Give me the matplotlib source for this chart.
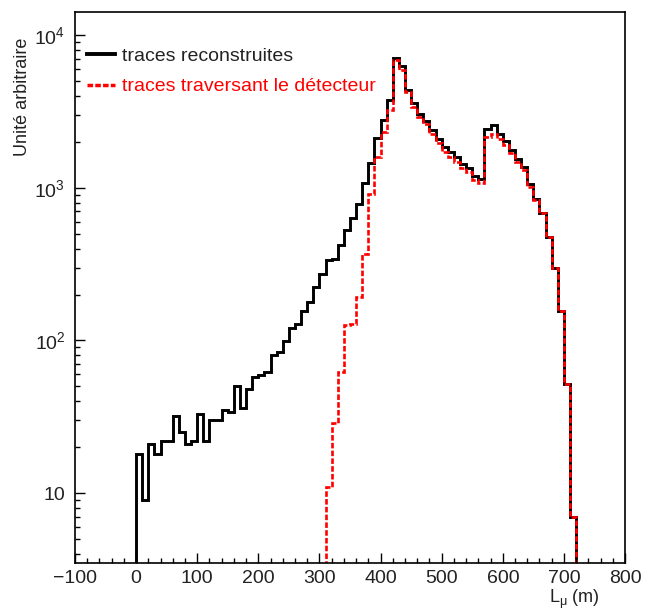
import numpy as np
import matplotlib
matplotlib.use("Agg")
import matplotlib.pyplot as plt
from matplotlib.lines import Line2D
from matplotlib.ticker import FixedLocator, FixedFormatter, MultipleLocator, LogLocator, NullFormatter

plt.rcParams['font.family'] = ['Liberation Sans', 'DejaVu Sans']
plt.rcParams['mathtext.fontset'] = 'custom'
plt.rcParams['mathtext.rm'] = 'Liberation Sans'
plt.rcParams['mathtext.it'] = 'Liberation Sans:italic'
plt.rcParams['lines.scale_dashes'] = False

# histogram of reconstructed tracks, 10 m bins from 0 to 720 m
reco_start = 0
reco_counts = [18, 9, 21, 18, 22, 22, 32, 25, 21, 22,
               33, 22, 30, 30, 35, 34, 50, 36, 48, 58,
               59, 62, 80, 84, 99, 120, 129, 155, 179, 224,
               272, 336, 342, 421, 527, 630, 781, 1070, 1460, 2126,
               2775, 3753, 7145, 6266, 4409, 3574, 3043, 2748, 2387, 2075,
               1858, 1706, 1582, 1423, 1340, 1193, 1135, 2421, 2575, 2249,
               2032, 1783, 1557, 1374, 1052, 843, 680, 477, 297, 156,
               52, 7]

# tracks crossing the detector, 10 m bins from 310 to 720 m
cross_start = 310
cross_counts = [11, 29, 62, 126, 129, 194, 371, 918, 1596,
                2329, 3228, 6855, 5900, 4252, 3390, 2917, 2612, 2270, 1953,
                1721, 1596, 1480, 1340, 1274, 1122, 1069, 2157, 2270, 2105,
                1904, 1680, 1480, 1306, 1016, 832, 680, 477, 297, 156,
                52, 7]

bin_width = 10
labels = ['traces reconstruites', 'traces traversant le détecteur']
ytick_vals = [10, 100, 1000, 10000]
ytick_labels = ['10', '$10^{2}$', '$10^{3}$', '$10^{4}$']

reco_edges = reco_start + bin_width * np.arange(len(reco_counts) + 1)
cross_edges = cross_start + bin_width * np.arange(len(cross_counts) + 1)

text_col = '#222222'

fig = plt.figure(figsize=(6.49, 6.12), dpi=100)
ax = fig.add_axes([0.1156, 0.080, 0.8475, 0.900])

red_dash = (0, (4.0, 1.6))
ax.stairs(reco_counts, reco_edges, baseline=1e-3, color='black', lw=2.1)
ax.stairs(cross_counts, cross_edges, baseline=1e-3, color='red', lw=1.9,
          linestyle=red_dash)

ax.set_yscale('log')
ax.set_xlim(-100, 800)
ax.set_ylim(3.48, 14150)

# axis ticks, ROOT-like: inside, only left and bottom
ax.xaxis.set_major_locator(MultipleLocator(100))
ax.xaxis.set_minor_locator(MultipleLocator(20))
ax.yaxis.set_major_locator(FixedLocator(ytick_vals))
ax.yaxis.set_major_formatter(FixedFormatter(ytick_labels))
ax.yaxis.set_minor_locator(LogLocator(base=10, subs=np.arange(2, 10)))
ax.yaxis.set_minor_formatter(NullFormatter())
ax.tick_params(which='both', direction='in', top=False, right=False,
               labelsize=14, width=1.0, labelcolor=text_col)
ax.tick_params(axis='y', pad=7)
ax.tick_params(axis='x', pad=5)
ax.tick_params(which='major', length=7)
ax.tick_params(which='minor', length=3.5)
for s in ax.spines.values():
    s.set_linewidth(1.2)

ax.set_xlabel('L$_{\\mathrm{μ}}$ (m)', fontsize=13, color=text_col)
ax.xaxis.set_label_coords(0.955, -0.066)
ax.xaxis.label.set_horizontalalignment('right')
ax.xaxis.label.set_verticalalignment('center')

ax.set_ylabel('Unité arbitraire', fontsize=13, color=text_col)
ax.yaxis.set_label_coords(-0.095, 0.954)
ax.yaxis.label.set_rotation_mode('anchor')
ax.yaxis.label.set_horizontalalignment('right')
ax.yaxis.label.set_verticalalignment('center')

handles = [Line2D([], [], color='black', lw=2.8),
           Line2D([], [], color='red', lw=2.5, linestyle=red_dash)]
leg = ax.legend(handles, labels, loc='upper left', bbox_to_anchor=(0.022, 0.937),
                frameon=False, fontsize=14, handlelength=1.45, handletextpad=0.35,
                labelspacing=0.68, borderpad=0, borderaxespad=0)
leg.get_texts()[0].set_color(text_col)
leg.get_texts()[1].set_color('red')

fig.savefig('out.png', dpi=100, facecolor='white')
